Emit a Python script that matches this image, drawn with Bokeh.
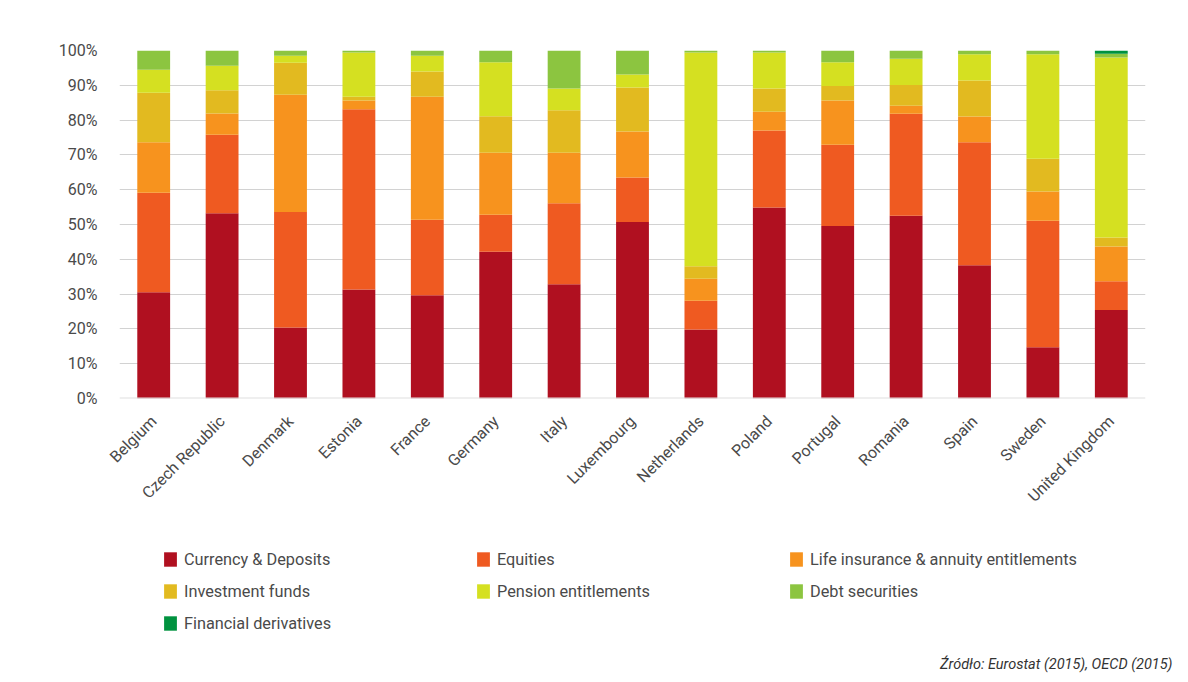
from bokeh.plotting import figure
from bokeh.models import (FactorRange, Range1d, FixedTicker, Span, Legend,
                          LegendItem, Title)
from bokeh.layouts import column
from bokeh.embed import file_html
from bokeh.resources import INLINE

countries = ["Belgium", "Czech Republic", "Denmark", "Estonia", "France",
             "Germany", "Italy", "Luxembourg", "Netherlands", "Poland",
             "Portugal", "Romania", "Spain", "Sweden", "United Kingdom"]

currency = [30.5, 53.2, 20.4, 31.3, 29.7, 42.2, 32.8, 50.7, 19.8, 54.9, 49.6, 52.5, 38.3, 14.7, 25.4]
equities = [28.6, 22.6, 33.2, 51.8, 21.7, 10.6, 23.3, 12.8, 8.3, 22.1, 23.3, 29.3, 35.3, 36.4, 8.3]
life_ins = [14.5, 6.1, 33.7, 2.5, 35.3, 17.8, 14.5, 13.2, 6.3, 5.4, 12.7, 2.3, 7.4, 8.4, 10.0]
inv_funds = [14.25, 6.7, 9.2, 1.1, 7.3, 10.5, 12.2, 12.7, 3.6, 6.7, 4.2, 6.0, 10.4, 9.4, 2.6]
pension = [6.6, 7.0, 2.0, 12.7, 4.5, 15.5, 6.3, 3.7, 61.4, 10.3, 6.8, 7.5, 7.5, 30.0, 51.7]
debt = [5.55, 4.4, 1.5, 0.6, 1.5, 3.4, 10.9, 6.9, 0.6, 0.6, 3.4, 2.4, 1.1, 1.1, 1.1]
derivatives = [0, 0, 0, 0, 0, 0, 0, 0, 0, 0, 0, 0, 0, 0, 0.9]

series_names = ["Currency & Deposits", "Equities", "Life insurance & annuity entitlements",
                "Investment funds", "Pension entitlements", "Debt securities",
                "Financial derivatives"]
series_keys = ["currency", "equities", "life_ins", "inv_funds", "pension", "debt", "derivatives"]
colors = ["#B01020", "#EF5A21", "#F7931E", "#E2BA20", "#D5E021", "#8CC540", "#00923F"]

y_ticks = [0, 10, 20, 30, 40, 50, 60, 70, 80, 90, 100]
y_tick_labels = ["0%", "10%", "20%", "30%", "40%", "50%", "60%", "70%", "80%", "90%", "100%"]

source_text = "Źródło: Eurostat (2015), OECD (2015)"

data = dict(countries=countries, currency=currency, equities=equities,
            life_ins=life_ins, inv_funds=inv_funds, pension=pension,
            debt=debt, derivatives=derivatives)

FONT = "Roboto"
LEFT, RIGHT = 119, 35

p = figure(x_range=FactorRange(*countries), y_range=Range1d(0, 100),
           width=1180, height=528, output_backend="svg", toolbar_location=None,
           min_border_left=LEFT, min_border_right=RIGHT, min_border_top=50,
           min_border_bottom=130)
p.outline_line_color = None
p.vbar_stack(series_keys, x="countries", width=0.48, color=colors,
             line_color=None, source=data)

p.xgrid.grid_line_color = None
p.ygrid.grid_line_color = "#d2d2d2"
p.ygrid.grid_line_width = 1
p.yaxis.ticker = FixedTicker(ticks=y_ticks)
p.yaxis.major_label_overrides = {t: l for t, l in zip(y_ticks, y_tick_labels)}

for ax in (p.xaxis[0], p.yaxis[0]):
    ax.axis_line_color = None
    ax.major_tick_line_color = None
    ax.minor_tick_line_color = None
    ax.major_tick_out = 0
    ax.major_label_text_font = FONT
    ax.major_label_text_font_size = "16px"
    ax.major_label_text_color = "#4a4a4a"

p.yaxis.major_label_standoff = 22
p.xaxis.major_label_standoff = 20
p.xaxis.major_label_orientation = 0.785398

p.add_layout(Span(location=0, dimension="width", line_color="#e0e0e0", line_width=2))

# legend panel: the same series as hidden renderers, only their legend is shown
p2 = figure(x_range=FactorRange(*countries), y_range=Range1d(0, 100),
            width=1180, height=149, output_backend="svg", toolbar_location=None,
            x_axis_type=None, y_axis_type=None,
            min_border_left=LEFT, min_border_right=RIGHT,
            min_border_top=0, min_border_bottom=0)
p2.outline_line_color = None
p2.xgrid.grid_line_color = None
p2.ygrid.grid_line_color = None
hidden = p2.vbar_stack(series_keys, x="countries", width=0.48, color=colors,
                       line_color=None, source=data)
for r in hidden:
    r.visible = False

items = [LegendItem(label=name, renderers=[r]) for name, r in zip(series_names, hidden)]
legend = Legend(items=items, location=(43, 15), orientation="horizontal", ncols=3,
                glyph_width=16, glyph_height=18, label_standoff=6,
                label_width=279, label_height=20, spacing=12, padding=0, margin=0,
                border_line_color=None, background_fill_alpha=0,
                inactive_fill_alpha=0,
                label_text_font=FONT, label_text_font_size="16.3px",
                label_text_color="#4a4a4a")
p2.add_layout(legend)

p2.add_layout(Title(text=source_text, align="right", offset=-27, text_font=FONT,
                    text_font_size="14.5px", text_font_style="italic",
                    text_color="#333333"), "below")

layout = column(p, p2, spacing=0)
open("out.html", "w").write(file_html(layout, INLINE))
